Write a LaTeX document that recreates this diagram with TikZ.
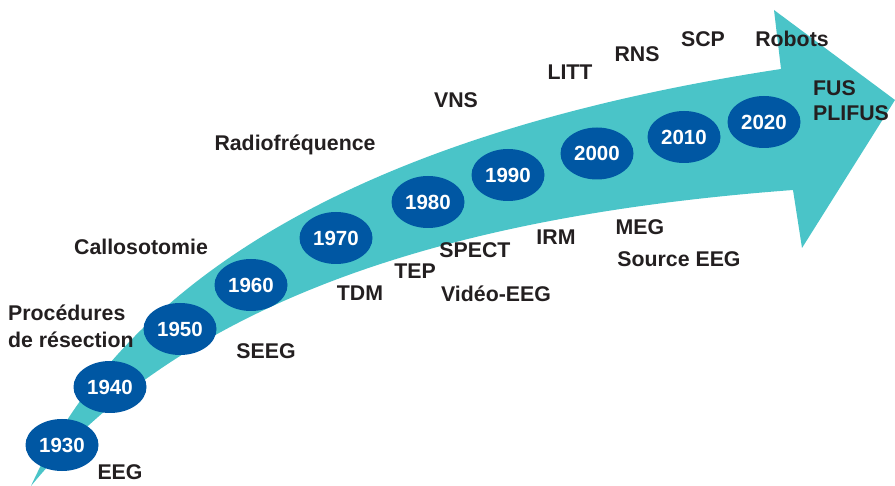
\documentclass[tikz,border=0pt]{standalone}
\usepackage{fontspec}
\setmainfont{Liberation Sans}
\usetikzlibrary{shapes.geometric}
\definecolor{teal1}{HTML}{4AC4C8}
\definecolor{blue1}{HTML}{0057A3}
\definecolor{txt}{HTML}{231F20}
\begin{document}
\begin{tikzpicture}[x=1pt,y=-1pt,
  yr/.style={ellipse, fill=blue1, text=white, minimum width=73pt, minimum height=52pt, inner sep=0pt, font=\fontsize{20.5}{24}\selectfont\bfseries},
  lb/.style={text=txt, inner sep=0pt, font=\fontsize{21.3}{25}\selectfont\bfseries}]
\useasboundingbox (0,0) rectangle (895,486);
% arrow
\fill[teal1] (31,486) .. controls (130,268) and (380,130) .. (781,69)
  -- (774,10) -- (895,100) -- (802,248) -- (793,190)
  .. controls (500,212) and (200,280) .. (31,486) -- cycle;
% years
\node[yr] (y1930) at (62,445) {1930};
\node[yr] (y1940) at (110,387) {1940};
\node[yr] (y1950) at (180,329) {1950};
\node[yr] (y1960) at (251,285) {1960};
\node[yr] (y1970) at (336,238) {1970};
\node[yr] (y1980) at (428,202) {1980};
\node[yr] (y1990) at (508,175) {1990};
\node[yr] (y2000) at (597,153.5) {2000};
\node[yr] (y2010) at (684,137) {2010};
\node[yr] (y2020) at (764,122) {2020};
% labels
\node[lb] (eeg) at (120,472) {EEG};
\node[lb, anchor=west] (proc) at (8,313) {Procédures};
\node[lb, anchor=west] (resec) at (8,340) {de résection};
\node[lb] (seeg) at (266,351) {SEEG};
\node[lb] (callo) at (141,247) {Callosotomie};
\node[lb] (tdm) at (360,293) {TDM};
\node[lb] (tep) at (415,271) {TEP};
\node[lb] (spect) at (475,250) {SPECT};
\node[lb] (video) at (496,294) {Vidéo-EEG};
\node[lb] (irm) at (556,237) {IRM};
\node[lb] (meg) at (640,227) {MEG};
\node[lb] (source) at (679,259) {Source EEG};
\node[lb] (radio) at (295,145) {Radiofréquence};
\node[lb] (vns) at (456,100) {VNS};
\node[lb] (litt) at (570,72) {LITT};
\node[lb] (rns) at (637,54) {RNS};
\node[lb] (scp) at (703,39) {SCP};
\node[lb] (robots) at (792,39) {Robots};
\node[lb, anchor=west] (fus) at (813,88) {FUS};
\node[lb, anchor=west] (plifus) at (813,113) {PLIFUS};
\end{tikzpicture}
\end{document}
